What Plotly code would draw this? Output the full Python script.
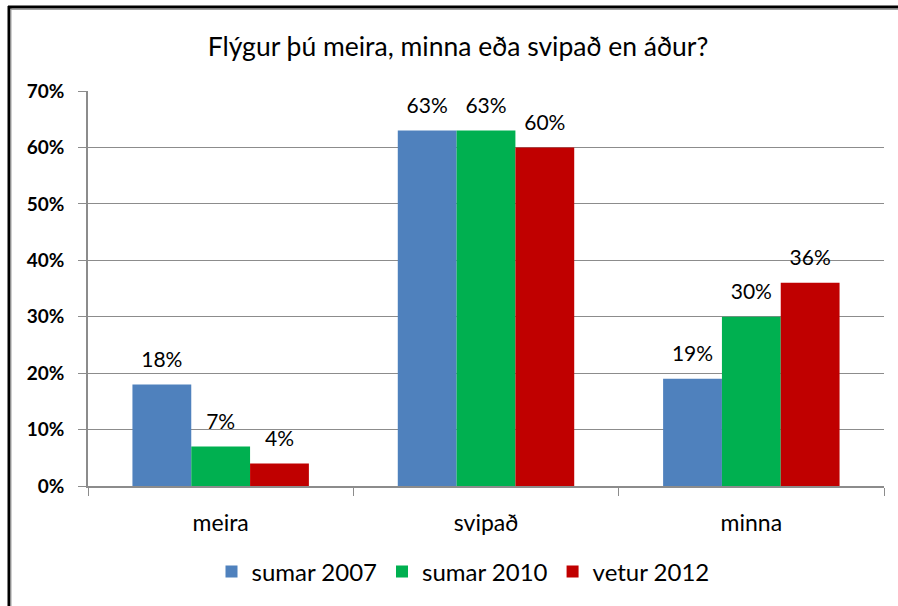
import plotly.graph_objects as go

categories = ["meira", "svipað", "minna"]
series_names = ["sumar 2007", "sumar 2010", "vetur 2012"]
sumar_2007 = [18, 63, 19]
sumar_2010 = [7, 63, 30]
vetur_2012 = [4, 60, 36]
colors = ["#4F81BD", "#00B050", "#C00000"]
y_ticks = [0, 10, 20, 30, 40, 50, 60, 70]

FONT = "Lato"
fig = go.Figure()
all_series = [sumar_2007, sumar_2010, vetur_2012]
for i, (name, vals, col) in enumerate(zip(series_names, all_series, colors)):
    fig.add_trace(go.Bar(
        x=categories, y=vals, name=name, marker=dict(color=col, line=dict(width=0)),
        offsetgroup=str(i), alignmentgroup="g", legendrank=i,
    ))
for i, (name, vals) in enumerate(zip(series_names, all_series)):
    fig.add_trace(go.Scatter(
        x=categories, y=vals, mode="markers+text", showlegend=False, hoverinfo="skip",
        marker=dict(size=18, opacity=0), offsetgroup=str(i), alignmentgroup="g",
        text=[f"{v}%" for v in vals], textposition="top center", cliponaxis=False,
        textfont=dict(family=FONT, size=21, color="#000000"),
    ))

L, R, T, B = 88, 14, 91, 120
W, H = 898, 606
pw = W - L - R
ph = H - T - B

def px(x):
    return (x - L) / pw

def py(y):
    return (H - B - y) / ph

fig.update_layout(
    width=W, height=H,
    margin=dict(l=L, r=R, t=T, b=B, pad=0),
    paper_bgcolor="white", plot_bgcolor="white",
    barmode="group", bargap=0.335, bargroupgap=0,
    scattermode="group", scattergap=0.335,
    title=dict(text="Flýgur þú meira, minna eða svipað en áður?", x=px(458), xref="paper",
               y=1 - 47 / H, yanchor="middle", xanchor="center",
               font=dict(family=FONT, size=26.5, color="#000000")),
    font=dict(family=FONT, color="#000000"),
    showlegend=True,
    legend=dict(orientation="h", x=px(463), xanchor="center", y=py(572), yanchor="middle",
                font=dict(family=FONT, size=24, color="#000000"), itemwidth=30,
                traceorder="normal"),
    xaxis=dict(showgrid=False, showline=True, linecolor="#8C8C8C", linewidth=1.5,
               ticks="outside", tickson="boundaries", ticklen=8, tickcolor="#8C8C8C",
               tickfont=dict(family=FONT, size=23, color="#000000"),
               ticklabelstandoff=16),
    yaxis=dict(range=[0, 70], tickvals=y_ticks, ticktext=[f"{v}%" for v in y_ticks],
               showgrid=True, gridcolor="#8C8C8C", gridwidth=1,
               showline=True, linecolor="#8C8C8C", linewidth=1.5,
               ticks="outside", ticklen=8, tickcolor="#8C8C8C",
               tickfont=dict(family=FONT, size=19, color="#000000", weight="bold"),
               ticklabelstandoff=10, zeroline=False),
    shapes=[
        dict(type="line", xref="paper", yref="paper", x0=px(9), x1=px(9), y0=py(6), y1=py(606),
             line=dict(color="#000000", width=3)),
        dict(type="line", xref="paper", yref="paper", x0=px(11), x1=px(11), y0=py(8), y1=py(606),
             line=dict(color="#A0A0A0", width=1)),
        dict(type="line", xref="paper", yref="paper", x0=px(8), x1=px(898), y0=py(7), y1=py(7),
             line=dict(color="#000000", width=3)),
        dict(type="line", xref="paper", yref="paper", x0=px(11), x1=px(898), y0=py(9.5), y1=py(9.5),
             line=dict(color="#A0A0A0", width=1)),
    ],
)

fig.write_html("out.html", config={"displayModeBar": False},
               post_script="document.body.style.margin='0px';")
